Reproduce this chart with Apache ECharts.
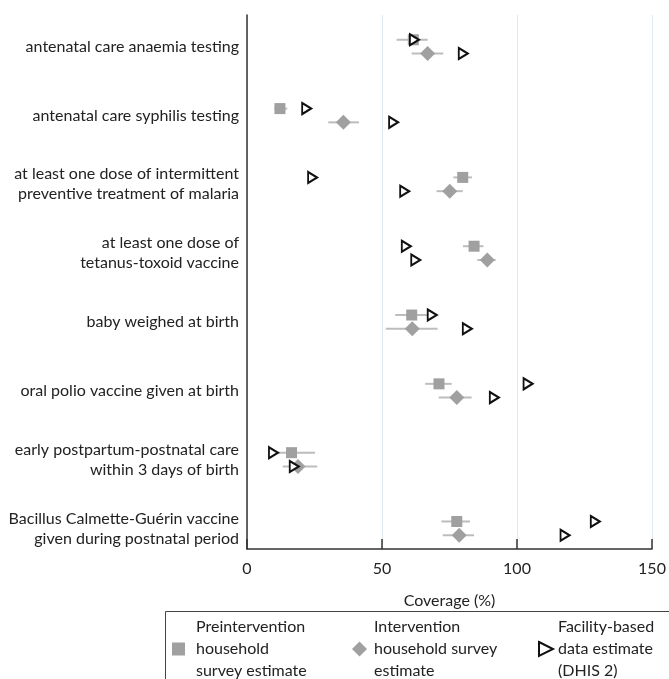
<!DOCTYPE html>
<html>
<head>
<meta charset="utf-8">
<script src="https://cdn.jsdelivr.net/npm/echarts@6/dist/echarts.min.js"></script>
<style>
html,body{margin:0;padding:0;background:#fff;}
#chart{width:669px;height:679px;}
</style>
</head>
<body>
<div id="chart"></div>
<script>
var categories = [
  'antenatal care anaemia testing',
  'antenatal care syphilis testing',
  'at least one dose of intermittent\npreventive treatment of malaria',
  'at least one dose of\ntetanus-toxoid vaccine',
  'baby weighed at birth',
  'oral polio vaccine given at birth',
  'early postpartum-postnatal care\nwithin 3 days of birth',
  'Bacillus Calmette-Guérin vaccine\ngiven during postnatal period'
];
var preEstimate = [61.6, 12.2, 79.9, 84.1, 61.0, 71.1, 16.5, 77.7];
var preLow      = [55.4, 10.1, 76.4, 80.0, 54.9, 66.0, 11.2, 72.0];
var preHigh     = [66.9, 14.9, 83.3, 87.6, 66.7, 75.8, 25.2, 82.6];
var intEstimate = [66.9, 35.7, 75.1, 89.0, 61.2, 77.7, 18.9, 78.6];
var intLow      = [61.0, 30.1, 70.2, 85.3, 51.4, 71.0, 13.2, 72.5];
var intHigh     = [72.7, 41.5, 79.9, 92.1, 70.6, 83.2, 26.0, 84.1];
var dhisPre     = [62.0, 22.1, 24.3, 59.0, 68.6, 104.1, 9.8, 129.0];
var dhisInt     = [80.1, 54.3, 58.4, 62.5, 81.6, 91.6, 17.5, 117.8];
var xTicks = [0, 50, 100, 150];

var OFF = 0.1;
var FONT = 'Lato';
var names = ['Preintervention\nhousehold\nsurvey estimate', 'Intervention\nhousehold survey\nestimate', 'Facility-based\ndata estimate\n(DHIS 2)'];

function pts(vals, off){ return vals.map(function(v,i){ return [v, i+off]; }); }
var errData = [];
categories.forEach(function(c,i){
  errData.push([preLow[i], preHigh[i], i-OFF]);
  errData.push([intLow[i], intHigh[i], i+OFF]);
});
var dhisData = pts(dhisPre, -OFF).concat(pts(dhisInt, OFF));
var triPath = 'path://M0,0 L10,5 L0,10 Z';

var chart = echarts.init(document.getElementById('chart'), null, {renderer:'canvas'});
chart.setOption({
  animation:false,
  textStyle:{fontFamily:FONT},
  grid:{left:247, right:17, top:15, bottom:130},
  xAxis:{
    type:'value', min:0, max:150, interval:50,
    name:'Coverage (%)', nameLocation:'middle', nameGap:44,
    nameTextStyle:{fontSize:16, color:'#222', fontFamily:FONT},
    axisLine:{show:true, onZero:false, lineStyle:{color:'#333', width:1.5}},
    axisTick:{show:true, inside:true, length:10, lineStyle:{color:'#333', width:1.5}},
    axisLabel:{fontSize:16, color:'#222', margin:12, fontFamily:FONT, customValues:xTicks},
    splitLine:{show:true, lineStyle:{color:'#e0e9ee', width:1}}
  },
  yAxis:{
    type:'value', inverse:true, min:-0.46, max:7.30,
    axisLine:{show:true, onZero:false, lineStyle:{color:'#333', width:1.5}},
    axisTick:{show:false},
    splitLine:{show:false},
    axisLabel:{
      customValues:[0,1,2,3,4,5,6,7],
      fontSize:16, color:'#222', margin:8, lineHeight:20, fontFamily:FONT,
      formatter:function(v){ return categories[Math.round(v)] || ''; }
    }
  },
  legend:[
    {data:[names[0]], left:167, top:611, itemWidth:13, itemHeight:13, itemGap:0,
     textStyle:{fontSize:16, color:'#222', lineHeight:22, fontFamily:FONT, padding:[0,0,0,6]}},
    {data:[names[1]], left:347, top:611, itemWidth:15, itemHeight:15, itemGap:0,
     textStyle:{fontSize:16, color:'#222', lineHeight:22, fontFamily:FONT, padding:[0,0,0,2]}},
    {data:[names[2]], left:533, top:611, itemWidth:14, itemHeight:15, itemGap:0,
     textStyle:{fontSize:16, color:'#222', lineHeight:22, fontFamily:FONT, padding:[0,0,0,0]}}
  ],
  graphic:[
    {type:'rect', shape:{x:165.5, y:611.5, width:520, height:80}, style:{fill:'none', stroke:'#444', lineWidth:1}, silent:true}
  ],
  series:[
    {
      type:'custom', name:'err', z:1, silent:true,
      data:errData,
      encode:{x:[0,1], y:2},
      renderItem:function(params, api){
        var a = api.coord([api.value(0), api.value(2)]);
        var b = api.coord([api.value(1), api.value(2)]);
        return {type:'line', shape:{x1:a[0], y1:a[1], x2:b[0], y2:b[1]}, style:{stroke:'#bdbdbd', lineWidth:2}};
      }
    },
    {
      type:'scatter', name:names[0], z:3, symbol:'rect', symbolSize:11,
      itemStyle:{color:'#a0a0a0', opacity:1},
      data:pts(preEstimate, -OFF)
    },
    {
      type:'scatter', name:names[1], z:3, symbol:'diamond', symbolSize:[15,15],
      itemStyle:{color:'#a0a0a0', opacity:1},
      data:pts(intEstimate, OFF)
    },
    {
      type:'scatter', name:names[2], z:4, symbol:triPath, symbolSize:[9,11],
      itemStyle:{color:'#ffffff', borderColor:'#111', borderWidth:2, opacity:1},
      data:dhisData
    }
  ]
});
</script>
</body>
</html>
